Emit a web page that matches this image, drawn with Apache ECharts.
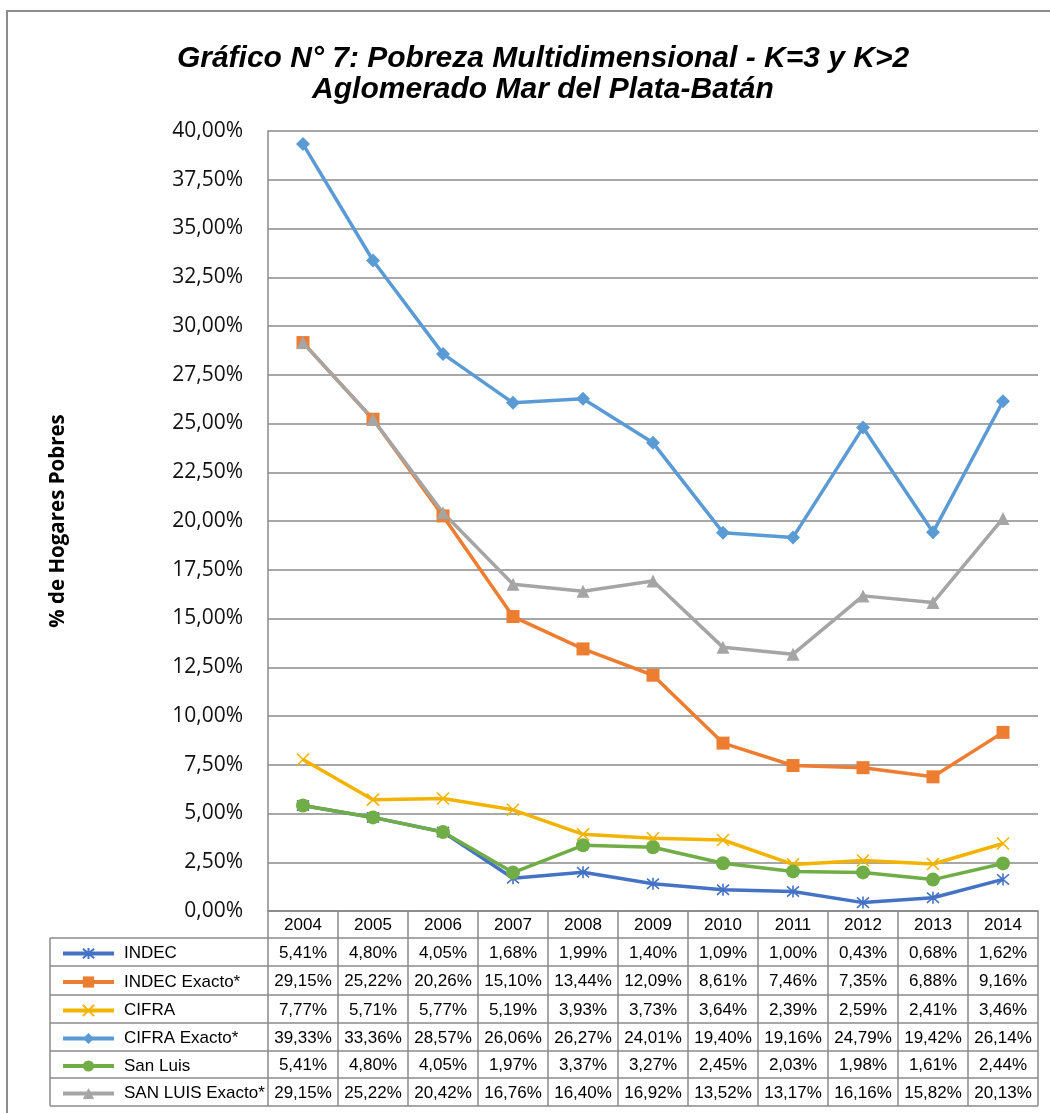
<!DOCTYPE html>
<html>
<head>
<meta charset="utf-8">
<script src="https://cdn.jsdelivr.net/npm/echarts@6/dist/echarts.min.js"></script>
<style>
  html, body { margin: 0; padding: 0; background: #fff; }
  #chart { width: 1050px; height: 1113px; }
</style>
</head>
<body>
<div id="chart"></div>
<script>
// datos -------------------------
var years = ['2004', '2005', '2006', '2007', '2008', '2009', '2010', '2011', '2012', '2013', '2014'];
var yTicks = [0, 40, 2.5]; // min, max, paso

var indec        = [5.41, 4.80, 4.05, 1.68, 1.99, 1.40, 1.09, 1.00, 0.43, 0.68, 1.62];
var indecExacto  = [29.15, 25.22, 20.26, 15.10, 13.44, 12.09, 8.61, 7.46, 7.35, 6.88, 9.16];
var cifra        = [7.77, 5.71, 5.77, 5.19, 3.93, 3.73, 3.64, 2.39, 2.59, 2.41, 3.46];
var cifraExacto  = [39.33, 33.36, 28.57, 26.06, 26.27, 24.01, 19.40, 19.16, 24.79, 19.42, 26.14];
var sanLuis      = [5.41, 4.80, 4.05, 1.97, 3.37, 3.27, 2.45, 2.03, 1.98, 1.61, 2.44];
var sanLuisExacto = [29.15, 25.22, 20.42, 16.76, 16.40, 16.92, 13.52, 13.17, 16.16, 15.82, 20.13];

var names = ['INDEC', 'INDEC Exacto*', 'CIFRA', 'CIFRA Exacto*', 'San Luis', 'SAN LUIS Exacto*'];
var values = [indec, indecExacto, cifra, cifraExacto, sanLuis, sanLuisExacto];
var colors = ['#4472C4', '#ED7D31', '#F2B400', '#5B9BD5', '#70AD47', '#A5A5A5'];

var asterisk = 'path://M5,0L5,10M0.7,0.7L9.3,9.3M9.3,0.7L0.7,9.3';
var cross = 'path://M0,0L10,10M10,0L0,10';
var symbols = [asterisk, 'rect', cross, 'diamond', 'circle', 'triangle'];
var symSizes = [12, 13, 12, 14, 14, 13];

// layout -------------------------
var gLeft = 268, gRight = 1038, gTop = 131, gBottom = 911;
var tabLeft = 50;
var rowY = [938, 966, 995, 1023, 1051, 1078, 1106];
var colW = (gRight - gLeft) / years.length;
var lineCol = '#8a8a8a';
var tableFont = '"Liberation Sans", Arial, sans-serif';

function fmt(v) {
    return v.toFixed(2).replace('.', ',') + '%';
}

var chart = echarts.init(document.getElementById('chart'));

// tabla ---------------------------
var graphics = [];
graphics.push({
    type: 'rect', shape: {x: 7, y: 11, width: 1100, height: 1200},
    style: {fill: 'none', stroke: '#8c8c8c', lineWidth: 2}, silent: true
});
graphics.push({
    type: 'line', shape: {x1: gLeft, y1: gBottom, x2: gRight, y2: gBottom},
    style: {stroke: lineCol, lineWidth: 1.5}
});
rowY.forEach(function (y) {
    graphics.push({
        type: 'line', shape: {x1: tabLeft, y1: y, x2: gRight, y2: y},
        style: {stroke: lineCol, lineWidth: 1.5}
    });
});
graphics.push({
    type: 'line', shape: {x1: tabLeft, y1: rowY[0], x2: tabLeft, y2: rowY[rowY.length - 1]},
    style: {stroke: lineCol, lineWidth: 1.5}
});
for (var c = 0; c <= years.length; c++) {
    var x = gLeft + c * colW;
    graphics.push({
        type: 'line', shape: {x1: x, y1: gBottom, x2: x, y2: rowY[rowY.length - 1]},
        style: {stroke: lineCol, lineWidth: 1.5}
    });
}
values.forEach(function (arr, r) {
    var cy = (rowY[r] + rowY[r + 1]) / 2;
    arr.forEach(function (v, i) {
        graphics.push({
            type: 'text',
            x: gLeft + (i + 0.5) * colW,
            y: cy + 1,
            style: {
                text: fmt(v), fill: '#000',
                font: '17px ' + tableFont,
                align: 'center', verticalAlign: 'middle'
            }
        });
    });
});

// una leyenda por fila de la tabla
var legends = names.map(function (n, r) {
    return {
        orient: 'vertical',
        left: 56,
        top: (rowY[r] + rowY[r + 1]) / 2 - 12,
        itemWidth: 51,
        itemHeight: 14,
        selectedMode: false,
        data: [n],
        lineStyle: {width: 4},
        textStyle: {
            fontFamily: tableFont,
            fontSize: 17,
            color: '#000',
            padding: [0, 0, 0, 5]
        }
    };
});

var series = names.map(function (n, i) {
    return {
        name: n,
        type: 'line',
        data: values[i],
        symbol: symbols[i],
        symbolSize: symSizes[i],
        showAllSymbol: true,
        lineStyle: {color: colors[i], width: 3.5},
        itemStyle: {
            color: colors[i],
            borderColor: colors[i],
            borderWidth: (i === 0 || i === 2) ? 1.6 : 0
        },
        emphasis: {disabled: true}
    };
});

var option = {
    animation: false,
    backgroundColor: '#fff',
    title: {
        text: 'Gráfico N° 7: Pobreza Multidimensional - K=3 y K>2\nAglomerado Mar del Plata-Batán',
        left: 538,
        top: 38,
        textAlign: 'center',
        textStyle: {
            fontFamily: '"Liberation Sans", Arial, sans-serif',
            fontWeight: 'bold',
            fontStyle: 'italic',
            fontSize: 30,
            lineHeight: 31,
            color: '#000'
        }
    },
    legend: legends,
    grid: {left: gLeft, right: 1050 - gRight, top: gTop, bottom: 1113 - gBottom, containLabel: false},
    xAxis: {
        type: 'category',
        data: years,
        boundaryGap: true,
        axisLine: {show: true, lineStyle: {color: lineCol, width: 1.5}},
        axisTick: {show: false},
        axisLabel: {
            interval: 0,
            margin: 6,
            verticalAlign: 'top',
            fontFamily: tableFont,
            fontSize: 17,
            color: '#000'
        }
    },
    yAxis: {
        type: 'value',
        min: yTicks[0],
        max: yTicks[1],
        interval: yTicks[2],
        name: '% de Hogares Pobres',
        nameLocation: 'middle',
        nameGap: 199,
        nameTextStyle: {
            fontFamily: '"Open Sans", sans-serif',
            fontWeight: 'bold',
            fontSize: 20.5,
            color: '#000'
        },
        axisLine: {show: true, lineStyle: {color: lineCol, width: 1.5}},
        axisTick: {show: false},
        splitLine: {lineStyle: {color: lineCol, width: 1.5}},
        axisLabel: {
            margin: 25,
            fontFamily: '"Open Sans", sans-serif',
            fontSize: 21,
            color: '#111',
            formatter: function (v) { return fmt(v); }
        }
    },
    graphic: graphics,
    series: series
};

chart.setOption(option);
</script>
</body>
</html>
